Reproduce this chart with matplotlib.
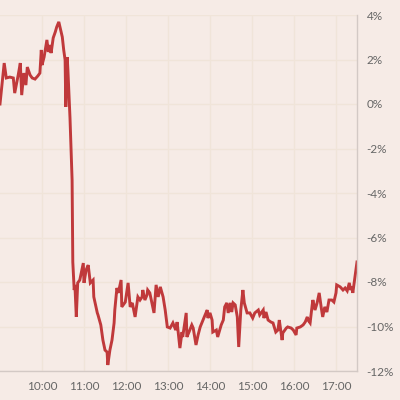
import matplotlib
matplotlib.use("Agg")
import matplotlib.pyplot as plt

times = ["9:00","9:06","9:09","9:14","9:19","9:21","9:26","9:29","9:31","9:34",
         "9:37","9:39","9:43","9:46","9:50","9:54","9:57","9:59","10:00","10:03",
         "10:07","10:09","10:11","10:13","10:16","10:19","10:21","10:24","10:29","10:31",
         "10:33","10:34","10:36","10:37","10:40","10:43","10:44","10:46","10:47","10:49",
         "10:51","10:54","10:59","11:00","11:03","11:06","11:09","11:13","11:14","11:19",
         "11:20","11:24","11:27","11:30","11:33","11:34","11:37","11:40","11:43","11:44",
         "11:47","11:49","11:53","11:54","11:59","12:03","12:06","12:09","12:13","12:17",
         "12:20","12:23","12:24","12:27","12:30","12:31","12:34","12:37","12:40","12:43",
         "12:46","12:49","12:53","12:56","12:59","13:03","13:07","13:11","13:13","13:17",
         "13:20","13:21","13:26","13:27","13:30","13:34","13:36","13:40","13:43","13:46",
         "13:50","13:53","13:56","13:57","14:00","14:03","14:04","14:09","14:11","14:16",
         "14:19","14:21","14:24","14:26","14:29","14:31","14:33","14:36","14:39","14:41",
         "14:44","14:47","14:49","14:53","14:57","15:01","15:04","15:09","15:11","15:16",
         "15:17","15:20","15:23","15:27","15:30","15:34","15:37","15:39","15:43","15:44",
         "15:49","15:51","15:56","15:59","16:03","16:04","16:09","16:13","16:16","16:19",
         "16:20","16:23","16:26","16:27","16:30","16:33","16:36","16:39","16:41","16:44",
         "16:47","16:50","16:54","16:57","17:00","17:01","17:06","17:10","17:13","17:16",
         "17:19","17:21","17:23","17:24","17:27","17:30"]
change_pct = [0.00,1.84,1.17,1.21,1.17,0.49,1.30,1.84,0.40,1.39,
              0.85,1.66,1.30,1.17,1.12,1.26,1.39,2.43,1.75,2.11,
              2.88,2.34,2.65,2.29,2.97,3.24,3.46,3.69,3.01,2.43,
              1.98,-0.13,2.11,1.53,-0.63,-3.42,-7.10,-8.36,-8.13,-9.57,
              -8.04,-7.91,-7.15,-8.04,-7.46,-7.24,-8.04,-7.91,-8.67,-9.39,
              -9.48,-9.93,-10.61,-11.06,-11.15,-11.73,-11.06,-10.61,-9.84,-9.26,
              -8.27,-8.49,-7.91,-9.12,-8.90,-8.04,-9.12,-8.94,-9.57,-8.67,
              -8.81,-8.67,-8.36,-8.81,-8.58,-8.36,-8.49,-8.94,-9.39,-8.13,
              -8.67,-8.22,-8.67,-9.26,-10.02,-10.07,-9.84,-10.16,-9.80,-10.97,
              -10.25,-10.47,-9.39,-10.47,-10.25,-9.93,-10.07,-10.83,-10.38,-10.02,
              -9.71,-9.48,-9.26,-9.62,-9.39,-9.71,-10.25,-10.16,-10.47,-9.93,
              -9.71,-9.12,-8.94,-9.39,-8.94,-9.35,-8.94,-9.03,-9.57,-10.92,
              -9.26,-8.36,-8.94,-9.39,-9.39,-9.62,-9.39,-9.26,-9.48,-9.26,
              -9.62,-9.35,-9.71,-9.80,-9.84,-10.25,-10.16,-9.71,-10.61,-10.29,
              -10.07,-10.02,-10.07,-10.16,-10.38,-10.07,-10.02,-9.93,-9.80,-9.57,
              -9.71,-9.84,-9.03,-8.81,-9.26,-8.94,-8.49,-9.17,-9.57,-9.12,
              -9.35,-8.81,-8.81,-8.90,-8.49,-8.13,-8.22,-8.36,-8.27,-8.40,
              -8.04,-8.36,-8.22,-8.49,-7.78,-7.10]

x_ticks = [10, 11, 12, 13, 14, 15, 16, 17]
x_tick_labels = ["10:00", "11:00", "12:00", "13:00", "14:00", "15:00", "16:00", "17:00"]
y_ticks = [4, 2, 0, -2, -4, -6, -8, -10, -12]
y_tick_labels = ["4%", "2%", "0%", "-2%", "-4%", "-6%", "-8%", "-10%", "-12%"]

def to_hours(t):
    h, m = t.split(":")
    return int(h) + int(m) / 60.0

hours = [to_hours(t) for t in times]

bg = "#f6ebe6"
fig = plt.figure(figsize=(4, 4), dpi=100, facecolor=bg)
ax = fig.add_axes([0.0, 1 - 371/400, 357/400, (371 - 15)/400])
ax.set_facecolor(bg)

ax.plot(hours, change_pct, color="#c0393b", linewidth=2.1, solid_joinstyle="miter")

ax.set_xlim(9, 17.5)
ax.set_ylim(-12, 4)
ax.set_xticks(x_ticks)
ax.set_xticklabels(x_tick_labels)
ax.set_yticks(y_ticks)
ax.set_yticklabels(y_tick_labels)
ax.yaxis.tick_right()

ax.grid(True, color="#f0e4d9", linewidth=1.0)
ax.set_axisbelow(True)
for s in ["top", "left"]:
    ax.spines[s].set_visible(False)
for s in ["right", "bottom"]:
    ax.spines[s].set_color("#d3c9c5")
    ax.spines[s].set_linewidth(1.0)

ax.tick_params(axis="both", length=0, labelsize=8.5, labelcolor="#666666")
ax.tick_params(axis="y", pad=7)
ax.tick_params(axis="x", pad=7)
for lab in ax.get_xticklabels() + ax.get_yticklabels():
    lab.set_fontfamily("Lato")

fig.savefig("out.png", dpi=100, facecolor=bg)
